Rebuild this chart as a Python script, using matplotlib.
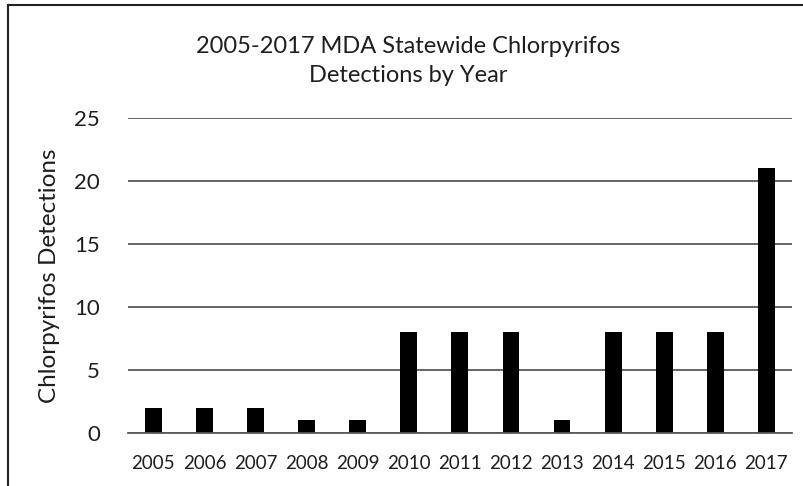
import matplotlib
matplotlib.use("Agg")
import matplotlib.pyplot as plt
from matplotlib.patches import Rectangle

years = ["2005", "2006", "2007", "2008", "2009", "2010", "2011", "2012",
         "2013", "2014", "2015", "2016", "2017"]
detections = [2, 2, 2, 1, 1, 8, 8, 8, 1, 8, 8, 8, 21]
yticks = [0, 5, 10, 15, 20, 25]

plt.rcParams['font.family'] = ['Lato', 'DejaVu Sans']
text_color = '#1e1e1e'
grid_color = '#595959'

fig = plt.figure(figsize=(8.04, 4.86), dpi=100)
ax = fig.add_axes([0.159, 0.109, 0.826, 0.648])

x = list(range(len(years)))
ax.bar(x, detections, width=0.33, color='black', zorder=3)
ax.set_xlim(-0.5, len(years) - 0.5)
ax.set_ylim(0, 25)
ax.set_yticks(yticks)
ax.set_xticks(x)
ax.set_xticklabels(years)
ax.yaxis.grid(True, color=grid_color, linewidth=1.3, zorder=0)
for s in ['left', 'right', 'top']:
    ax.spines[s].set_visible(False)
ax.spines['bottom'].set_color(grid_color)
ax.spines['bottom'].set_linewidth(1.3)
ax.spines['bottom'].set_zorder(4)
ax.tick_params(axis='y', length=0, pad=20, labelsize=16, labelcolor=text_color)
ax.tick_params(axis='x', length=0, pad=16, labelsize=13.5, labelcolor=text_color)
ax.set_ylabel("Chlorpyrifos Detections", fontsize=17.5, color=text_color, labelpad=10)

fig.text(0.508, 0.874, "2005-2017 MDA Statewide Chlorpyrifos\nDetections by Year",
         ha='center', va='center', fontsize=17, color=text_color, linespacing=1.45)

fig.patches.append(Rectangle((8 / 804, -0.1), 1.2, 1 - 5 / 486 + 0.1,
                             transform=fig.transFigure, fill=False,
                             edgecolor='#222222', linewidth=1.5))

fig.savefig("out.png", dpi=100)
